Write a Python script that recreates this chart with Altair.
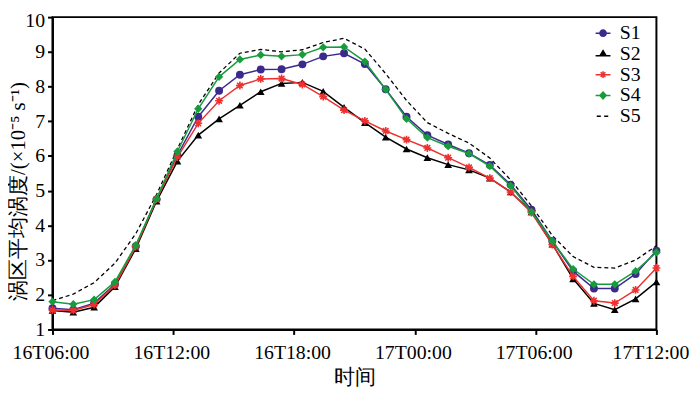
import altair as alt
import pandas as pd

hours = [0, 1.034, 2.069, 3.103, 4.138, 5.172, 6.207, 7.241, 8.276, 9.310,
         10.345, 11.379, 12.414, 13.448, 14.483, 15.517, 16.552, 17.586, 18.621, 19.655,
         20.690, 21.724, 22.759, 23.793, 24.828, 25.862, 26.897, 27.931, 28.966, 30.0]

s1 = [1.61, 1.57, 1.76, 2.30, 3.40, 4.75, 6.02, 7.13, 7.88, 8.34,
      8.49, 8.50, 8.64, 8.87, 8.96, 8.65, 7.92, 7.13, 6.60, 6.33,
      6.08, 5.74, 5.17, 4.45, 3.55, 2.68, 2.18, 2.18, 2.60, 3.27]
s2 = [1.55, 1.50, 1.64, 2.23, 3.33, 4.70, 5.85, 6.60, 7.07, 7.46,
      7.85, 8.09, 8.12, 7.86, 7.40, 6.96, 6.54, 6.20, 5.95, 5.75,
      5.60, 5.36, 4.96, 4.39, 3.46, 2.46, 1.75, 1.57, 1.88, 2.37]
s3 = [1.56, 1.55, 1.72, 2.27, 3.38, 4.75, 5.97, 6.94, 7.59, 8.03,
      8.22, 8.23, 8.06, 7.71, 7.32, 7.01, 6.72, 6.47, 6.23, 5.95,
      5.67, 5.36, 4.96, 4.37, 3.45, 2.53, 1.83, 1.76, 2.14, 2.77]
s4 = [1.80, 1.73, 1.86, 2.37, 3.43, 4.77, 6.13, 7.36, 8.28, 8.78,
      8.91, 8.87, 8.92, 9.13, 9.14, 8.72, 7.92, 7.07, 6.53, 6.28,
      6.07, 5.71, 5.14, 4.39, 3.55, 2.74, 2.30, 2.30, 2.68, 3.22]
s5 = [1.83, 2.02, 2.35, 2.91, 3.76, 4.89, 6.20, 7.48, 8.39, 8.96,
      9.07, 9.00, 9.06, 9.27, 9.39, 9.08, 8.37, 7.60, 6.96, 6.65,
      6.37, 5.94, 5.31, 4.56, 3.71, 3.10, 2.79, 2.77, 3.00, 3.41]

series_names = ["S1", "S2", "S3", "S4", "S5"]
series_colors = ["#3b2a8e", "#000000", "#ee3030", "#179c3c", "#000000"]
tick_hours = [0, 6, 12, 18, 24, 30]
tick_labels = ["16T06:00", "16T12:00", "16T18:00", "17T00:00", "17T06:00", "17T12:00"]

rows = []
for name, vals in zip(series_names, [s1, s2, s3, s4, s5]):
    for h, v in zip(hours, vals):
        rows.append({"series": name, "hour": h, "value": v})
df = pd.DataFrame(rows)

SERIF = "Liberation Serif"
label_expr = "[" + ",".join("'%s'" % t for t in tick_labels) + "][round(datum.value/6)]"

x_enc = alt.X("hour:Q",
              scale=alt.Scale(domain=[0, 30], nice=False, zero=False),
              axis=alt.Axis(values=tick_hours, labelExpr=label_expr, title="时间",
                            grid=False, labelPadding=8, titlePadding=5,
                            labelFlush=False, labelOverlap=False,
                            labelOffset={"condition": {"test": "datum.value == 30", "value": -6},
                                         "value": -2}))
y_enc = alt.Y("value:Q",
              scale=alt.Scale(domain=[1, 10], nice=False, zero=False),
              axis=alt.Axis(values=list(range(1, 11)), title="涡区平均涡度/(×10⁻⁵ s⁻¹)",
                            grid=False, labelPadding=3, titleAngle=270,
                            titleX=-34, titleY=176, titleAlign="center",
                            titleBaseline="middle", labelFlush=False, labelOverlap=False,
                            labelOffset={"condition": {"test": "datum.value == 10", "value": 3},
                                         "value": 0}))

base = alt.Chart(df)

asterisk = "M0,-1L0,1M-1,0L1,0M-0.71,-0.71L0.71,0.71M-0.71,0.71L0.71,-0.71"

layers = []
layers.append(base.transform_filter(alt.datum.series == "S5").mark_line(
    color="#000000", strokeWidth=1.3, strokeDash=[4, 3]).encode(x=x_enc, y=y_enc))

marker_specs = {
    "S1": dict(shape="circle", filled=True, size=64),
    "S2": dict(shape="triangle-up", filled=True, size=60),
    "S3": dict(shape=asterisk, filled=False, size=64, strokeWidth=1.6),
    "S4": dict(shape="diamond", filled=True, size=70),
}
for name, col in zip(series_names[:4], series_colors[:4]):
    sub = base.transform_filter(alt.datum.series == name)
    layers.append(sub.mark_line(color=col, strokeWidth=1.5).encode(x=x_enc, y=y_enc))
    spec = marker_specs[name]
    layers.append(sub.mark_point(color=col, opacity=1, **spec).encode(x=x_enc, y=y_enc))

leg_shapes = [
    "M-1,0L1,0M0.42,0A0.42,0.42,0,1,1,-0.42,0A0.42,0.42,0,1,1,0.42,0Z",
    "M-1,0.25L1,0.25M-0.42,0.25L0,-0.45L0.42,0.25Z",
    "M-1,0L1,0M0,-0.45L0,0.45M-0.32,-0.32L0.32,0.32M-0.32,0.32L0.32,-0.32M-0.45,0L0.45,0",
    "M-1,0L1,0M0,-0.45L0.42,0L0,0.45L-0.42,0Z",
    "M-0.85,0L-0.3,0M0.15,0L0.7,0",
]
legend = alt.Legend(title=None, orient="none", legendX=547, legendY=7,
                    labelFont=SERIF, labelFontSize=20, labelColor="#000000",
                    symbolSize=225, symbolStrokeWidth=1.5, labelOffset=7,
                    clipHeight=18.5, rowPadding=0, padding=0)
legend_layer = base.transform_filter("false").mark_point(filled=True, opacity=1).encode(
    x=x_enc, y=y_enc,
    shape=alt.Shape("series:N", scale=alt.Scale(domain=series_names, range=leg_shapes), legend=legend),
    fill=alt.Fill("series:N", scale=alt.Scale(domain=series_names, range=series_colors), legend=legend),
    stroke=alt.Stroke("series:N", scale=alt.Scale(domain=series_names, range=series_colors), legend=legend),
)
layers.append(legend_layer)

chart = alt.layer(*layers).properties(
    width=611, height=316,
    background="white",
    autosize=alt.AutoSizeParams(type="none"),
    padding={"left": 45, "top": 7, "right": 36, "bottom": 60},
).configure_view(stroke="#000000", strokeWidth=2).configure_axis(
    domainColor="#000000", domainWidth=2, tickColor="#000000", tickWidth=2, tickSize=5,
    labelFont=SERIF, labelFontSize=20, labelColor="#000000",
    titleFont=SERIF, titleFontSize=21, titleFontWeight="normal", titleColor="#000000",
)

chart.save("out.html", embed_options={"renderer": "svg", "actions": False})
